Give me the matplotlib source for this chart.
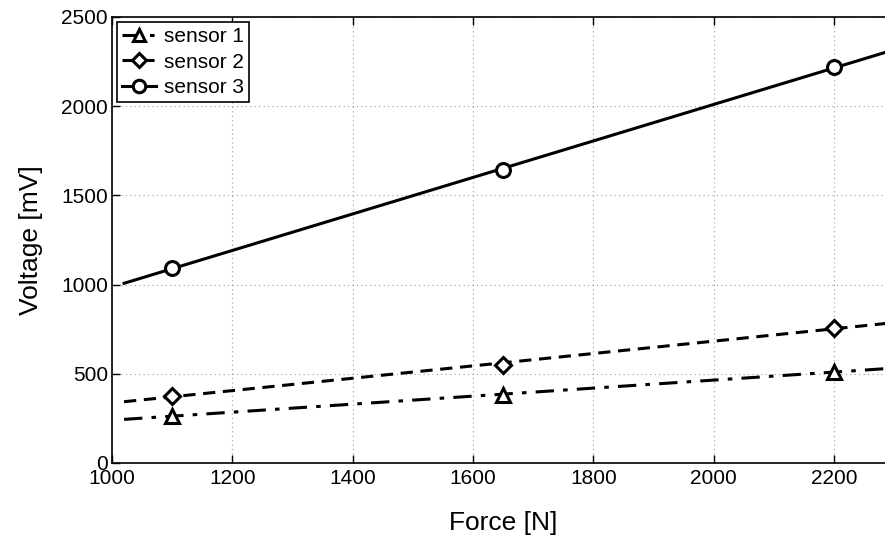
import numpy as np
import matplotlib
matplotlib.use("Agg")
import matplotlib.pyplot as plt
from matplotlib.lines import Line2D

plt.rcParams['font.family'] = ['Liberation Sans', 'DejaVu Sans']

force = [1100, 1650, 2200]
sensor1 = [265, 381, 512]
sensor2 = [377, 550, 758]
sensor3 = [1095, 1640, 2220]
labels = ["sensor 1", "sensor 2", "sensor 3"]
fit_range = [1020, 2300]
xticks = [1000, 1200, 1400, 1600, 1800, 2000, 2200]
yticks = [0, 500, 1000, 1500, 2000, 2500]

fig = plt.figure(figsize=(8.85, 5.36), dpi=100)
ax = fig.add_axes([0.1266, 0.1362, 1.0102 - 0.1266, 0.8321])

styles = [((0, (6, 3, 1.5, 3)), '^'), ((0, (4, 2.5)), 'D'), ('-', 'o')]
msizes = [10, 8, 10]
handles = []
for ys, lab, (ls, mk), ms in zip([sensor1, sensor2, sensor3], labels, styles, msizes):
    p = np.polyfit(force, ys, 1)
    xf = np.array(fit_range, dtype=float)
    ax.plot(xf, np.polyval(p, xf), color='black', linestyle=ls, lw=2.2, zorder=3)
    ax.plot(force, ys, linestyle='none', marker=mk, markersize=ms, mfc='white',
            mec='black', mew=2.2, zorder=4)
    handles.append(Line2D([], [], color='black', linestyle=ls, lw=2.2, marker=mk,
                          markersize=ms * 0.9, mfc='white', mec='black', mew=2.2, label=lab))

ax.set_xlim(1000, 2300)
ax.set_ylim(0, 2500)
ax.set_xticks(xticks)
ax.set_yticks(yticks)
ax.grid(True, linestyle=(0, (1, 3)), color='#999999', lw=0.8)
ax.tick_params(direction='in', top=True, right=True, labelsize=15, length=6, width=1)
ax.tick_params(axis='x', pad=4)
ax.tick_params(axis='y', pad=3)
for s in ax.spines.values():
    s.set_linewidth(1.2)
ax.set_xlabel("Force [N]", fontsize=19, labelpad=17)
ax.set_ylabel("Voltage [mV]", fontsize=19, labelpad=13)

leg = ax.legend(handles=handles, loc='upper left', fontsize=15, frameon=True,
                fancybox=False, edgecolor='black', framealpha=1,
                handlelength=1.6, handletextpad=0.4, borderpad=0.25,
                labelspacing=0.3, borderaxespad=0.25)
leg.get_frame().set_linewidth(1.2)

fig.savefig("out.png", dpi=100)
